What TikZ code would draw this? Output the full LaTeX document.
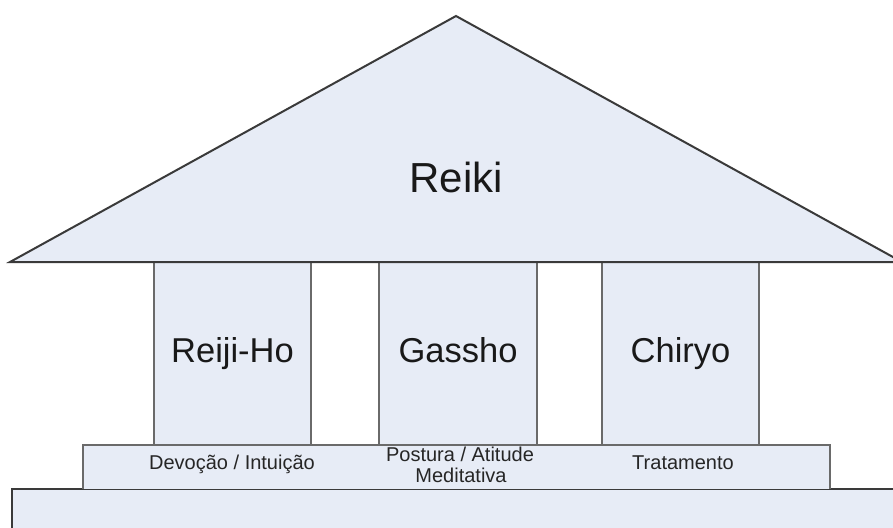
\documentclass[tikz,border=0pt]{standalone}
\usepackage{fontspec}
\setmainfont{Liberation Sans}
\definecolor{fillblue}{HTML}{E7ECF6}
\definecolor{darkline}{HTML}{3A3A3A}
\definecolor{greyline}{HTML}{6A6A6A}
\tikzset{
  part/.style={fill=fillblue},
  roofline/.style={draw=darkline, line width=2pt, line join=miter},
  pillarline/.style={draw=greyline, line width=2.3pt},
  bigtext/.style={font=\fontsize{42}{42}\selectfont, text=black!90, anchor=base, inner sep=0pt},
  midtext/.style={font=\fontsize{34.5}{34.5}\selectfont, text=black!90, anchor=base, inner sep=0pt},
  smalltext/.style={font=\fontsize{20}{20}\selectfont, text=black!85, anchor=base, inner sep=0pt}
}
\begin{document}
\begin{tikzpicture}[x=1pt,y=-1pt]
\useasboundingbox (0,0) rectangle (893,527);
\clip (0,0) rectangle (893,527);
% bottom base
\path[part] (12,489) rectangle (900,540);
\draw[darkline, line width=2pt] (12,540) -- (12,489) -- (900,489);
% step
\path[part] (83,445) rectangle (830,489);
\draw[pillarline] (83,489) -- (83,445) -- (830,445) -- (830,489);
% pillars
\foreach \xa/\xb in {154/311, 379/537, 602/759}{
  \path[part] (\xa,262) rectangle (\xb,445);
  \draw[pillarline] (\xa,262) -- (\xa,445) -- (\xb,445) -- (\xb,262);
}
% roof
\draw[roofline, part] (10,262) -- (456,16) -- (902,262) -- cycle;
% texts
\node[bigtext] (reiki) at (456,192) {Reiki};
\node[midtext] (p1) at (232.5,362) {Reiji-Ho};
\node[midtext] (p2) at (458,362) {Gassho};
\node[midtext] (p3) at (680.5,362) {Chiryo};
\node[smalltext] (b1) at (232,469) {Devoção / Intuição};
\node[smalltext] (b2a) at (460,461) {Postura / Atitude};
\node[smalltext] (b2b) at (461,482) {Meditativa};
\node[smalltext] (b3) at (683,469) {Tratamento};
\end{tikzpicture}
\end{document}
